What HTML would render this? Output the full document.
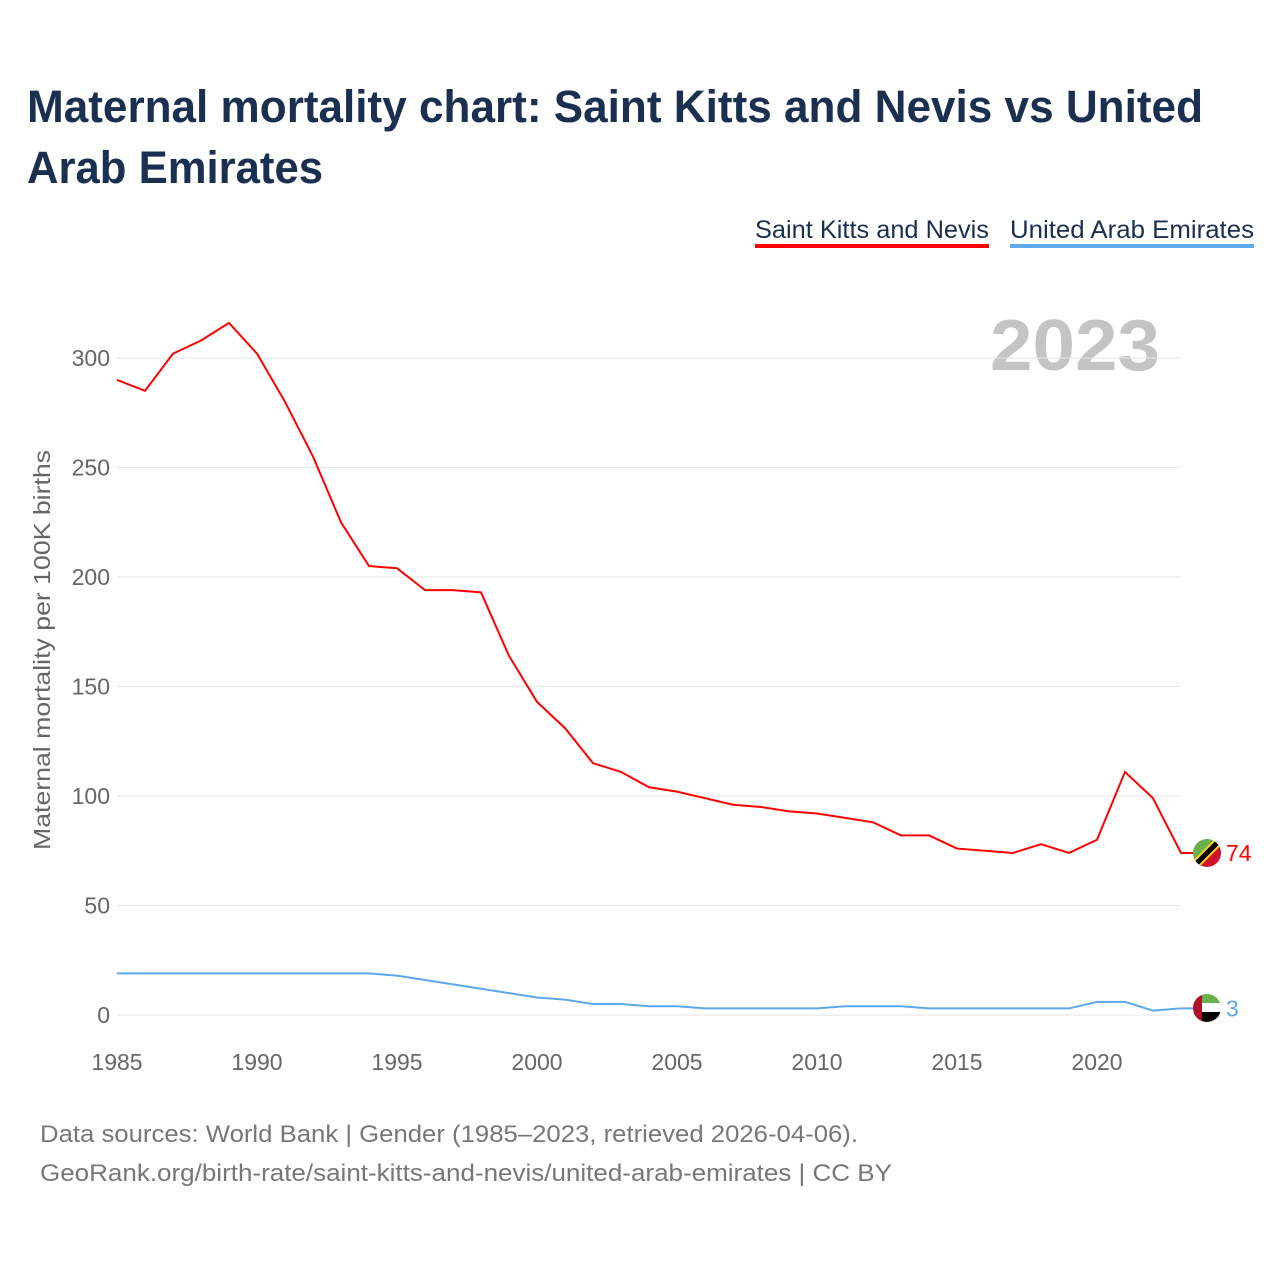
<!DOCTYPE html>
<html><head><meta charset="utf-8"><style>
body{margin:0;width:1280px;height:1280px;background:#fff;font-family:"Liberation Sans",sans-serif;overflow:hidden}
</style></head><body>
<svg width="1280" height="1280" xmlns="http://www.w3.org/2000/svg">
<defs>
<clipPath id="c1"><circle cx="1207" cy="853" r="14"/></clipPath>
<clipPath id="c2"><circle cx="1207" cy="1008" r="14"/></clipPath>
</defs>
<text x="27" y="122" font-size="45" font-weight="bold" fill="#1b2f50" textLength="1176" lengthAdjust="spacingAndGlyphs">Maternal mortality chart: Saint Kitts and Nevis vs United</text>
<text x="27" y="183" font-size="45" font-weight="bold" fill="#1b2f50" textLength="296" lengthAdjust="spacingAndGlyphs">Arab Emirates</text>
<g>
<text x="755" y="238" font-size="25" fill="#1b2f50" textLength="234" lengthAdjust="spacingAndGlyphs">Saint Kitts and Nevis</text>
<rect x="755" y="244" width="234" height="4" fill="#f00"/>
<text x="1010" y="238" font-size="25" fill="#1b2f50" textLength="244" lengthAdjust="spacingAndGlyphs">United Arab Emirates</text>
<rect x="1010" y="244" width="244" height="4" fill="#5ea8ec"/>
</g>
<text x="990" y="370" font-size="72" font-weight="bold" fill="#c4c4c4" textLength="170" lengthAdjust="spacingAndGlyphs">2023</text>
<text transform="translate(50,650) rotate(-90)" font-size="23" fill="#666" text-anchor="middle" textLength="400" lengthAdjust="spacingAndGlyphs">Maternal mortality per 100K births</text>
<g id="grid"></g><g id="lines"></g>
<g clip-path="url(#c1)">
<polygon points="1193,839 1221,839 1193,867" fill="#6ab04c"/>
<polygon points="1221,839 1221,867 1193,867" fill="#d0112b"/>
<line x1="1221" y1="839" x2="1193" y2="867" stroke="#fcd116" stroke-width="9"/>
<line x1="1221" y1="839" x2="1193" y2="867" stroke="#000" stroke-width="5"/>
</g>
<g clip-path="url(#c2)">
<rect x="1193" y="994" width="28" height="10" fill="#6ab04c"/>
<rect x="1193" y="1003" width="28" height="10" fill="#fff"/>
<rect x="1193" y="1012" width="28" height="10" fill="#000"/>
<rect x="1193" y="994" width="9" height="28" fill="#b0102b"/>
</g>
<text x="40" y="1142" font-size="24" fill="#777" textLength="818" lengthAdjust="spacingAndGlyphs">Data sources: World Bank | Gender (1985–2023, retrieved 2026-04-06).</text>
<text x="40" y="1181" font-size="24" fill="#777" textLength="852" lengthAdjust="spacingAndGlyphs">GeoRank.org/birth-rate/saint-kitts-and-nevis/united-arab-emirates | CC BY</text>
</svg>
<script>
const years=[];for(let y=1985;y<=2023;y++)years.push(y);
const sknValues=[290,285,302,308,316,302,280,255,225,205,204,194,194,193,164,143,131,115,111,104,102,99,96,95,93,92,90,88,82,82,76,75,74,78,74,80,111,99,74];
const uaeValues=[19,19,19,19,19,19,19,19,19,19,18,16,14,12,10,8,7,5,5,4,4,3,3,3,3,3,4,4,4,3,3,3,3,3,3,6,6,2,3];
const yTicks=[0,50,100,150,200,250,300];
const xTicks=[1985,1990,1995,2000,2005,2010,2015,2020];
const ns="http://www.w3.org/2000/svg";
const X=y=>117+(y-1985)*28, Y=v=>1015-v*2.19;
const grid=document.getElementById('grid'),lines=document.getElementById('lines');
function mk(t,a,p){const e=document.createElementNS(ns,t);for(const k in a)e.setAttribute(k,a[k]);p.appendChild(e);return e;}
yTicks.forEach(v=>{
 const l=mk('line',{x1:117,x2:1181,y1:Y(v),y2:Y(v),stroke:'#e6e6e6'},grid);
 
 
 const t=mk('text',{x:110,y:Y(v)+8,'font-size':23,fill:'#666','text-anchor':'end'},grid);t.textContent=v;
 
 
});
xTicks.forEach(v=>{
 const t=mk('text',{x:X(v),y:1070,'font-size':23,fill:'#666','text-anchor':'middle'},grid);t.textContent=v;
 
 
});
function series(vals,col,name){
 const pts=vals.map((v,i)=>X(years[i])+','+Y(v));
 const last=vals[vals.length-1];
 pts.push((X(2023)+14)+','+Y(last));
 const p=mk('polyline',{points:pts.join(' '),fill:'none',stroke:col,'stroke-width':2},lines);
 
 
 const t=mk('text',{x:X(2023)+45,y:Y(last)+8,'font-size':23,fill:col},lines);t.textContent=last;
 
 
}
series(sknValues,'#f00','skn');
series(uaeValues,'#5ea8ec','uae');
</script>
</body></html>
